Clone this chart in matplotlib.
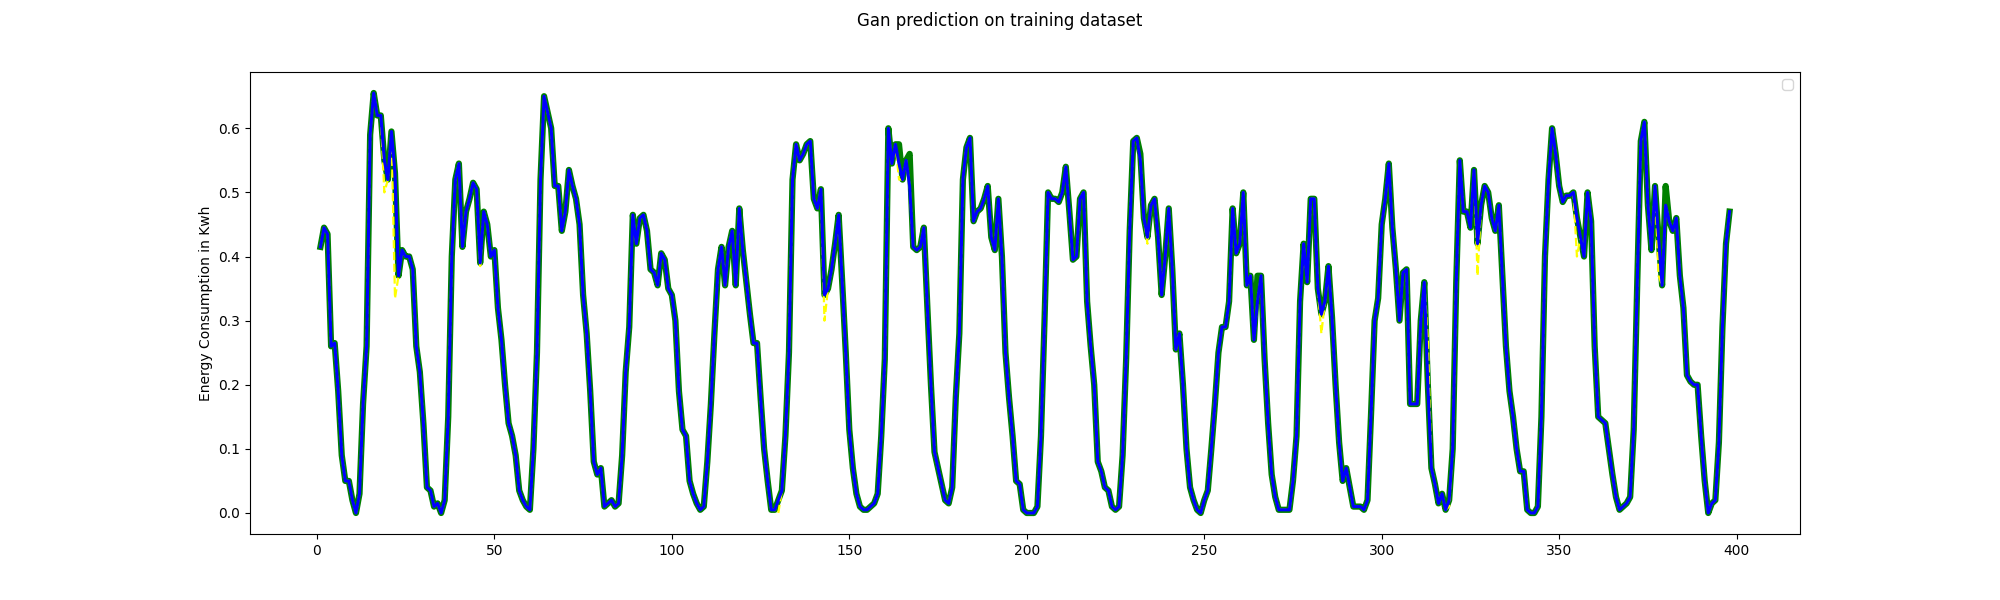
import matplotlib
matplotlib.use("Agg")
import matplotlib.pyplot as plt
import numpy as np

real = [
    0.415, 0.445, 0.435, 0.26, 0.265, 0.19, 0.09, 0.05, 0.05, 0.02,
    0.0, 0.03, 0.17, 0.26, 0.59, 0.655, 0.62, 0.62, 0.55, 0.52,
    0.595, 0.53, 0.37, 0.41, 0.40, 0.40, 0.38, 0.26, 0.22, 0.14,
    0.04, 0.035, 0.01, 0.015, 0.0, 0.02, 0.15, 0.40, 0.52, 0.545,
    0.415, 0.47, 0.49, 0.515, 0.505, 0.39, 0.47, 0.45, 0.40, 0.41,
    0.32, 0.27, 0.20, 0.14, 0.12, 0.09, 0.035, 0.02, 0.01, 0.005,
    0.10, 0.25, 0.52, 0.65, 0.625, 0.60, 0.51, 0.51, 0.44, 0.47,
    0.535, 0.51, 0.49, 0.45, 0.34, 0.28, 0.19, 0.08, 0.06, 0.07,
    0.01, 0.015, 0.02, 0.01, 0.015, 0.09, 0.22, 0.29, 0.465, 0.42,
    0.46, 0.465, 0.44, 0.38, 0.375, 0.355, 0.405, 0.395, 0.35, 0.34,
    0.30, 0.19, 0.13, 0.12, 0.05, 0.03, 0.015, 0.005, 0.01, 0.08,
    0.17, 0.28, 0.38, 0.415, 0.355, 0.415, 0.44, 0.355, 0.475, 0.41,
    0.36, 0.31, 0.265, 0.265, 0.18, 0.10, 0.05, 0.005, 0.005, 0.02,
    0.035, 0.12, 0.25, 0.52, 0.575, 0.55, 0.56, 0.575, 0.58, 0.49,
    0.475, 0.505, 0.34, 0.35, 0.38, 0.42, 0.465, 0.36, 0.25, 0.13, 0.07,
    0.03, 0.01, 0.005, 0.005, 0.01, 0.015, 0.03, 0.12, 0.24, 0.60, 0.545, 0.575,
    0.545, 0.52, 0.55, 0.51, 0.415, 0.41, 0.415, 0.445, 0.32,
    0.20, 0.095, 0.07, 0.045, 0.02, 0.015, 0.04, 0.18, 0.28,
    0.52, 0.57, 0.585, 0.455, 0.47, 0.475, 0.49, 0.51, 0.43, 0.41,
    0.49, 0.40, 0.25, 0.18, 0.12, 0.05, 0.045, 0.005, 0.0, 0.0, 0.0,
    0.01, 0.12, 0.30, 0.50, 0.49, 0.49, 0.485, 0.50, 0.54, 0.47,
    0.395, 0.40, 0.49, 0.50, 0.33, 0.26, 0.20, 0.08, 0.065, 0.04,
    0.035, 0.01, 0.005, 0.01, 0.09, 0.24, 0.44, 0.58, 0.585, 0.55,
    0.46, 0.43, 0.48, 0.49, 0.43, 0.34, 0.40, 0.475, 0.38, 0.255,
    0.28, 0.20, 0.10, 0.04, 0.02, 0.005, 0.0, 0.02, 0.035, 0.10,
    0.17, 0.25, 0.29, 0.29, 0.33, 0.475, 0.405, 0.42, 0.50, 0.355,
    0.37, 0.27, 0.33, 0.37, 0.24, 0.14, 0.06, 0.025, 0.005, 0.005,
    0.005, 0.005, 0.05, 0.12, 0.33, 0.42, 0.36, 0.49, 0.49, 0.35,
    0.31, 0.33, 0.385, 0.305, 0.20, 0.11, 0.05, 0.07, 0.04, 0.01,
    0.01, 0.01, 0.005, 0.02, 0.155, 0.30, 0.335, 0.45, 0.49, 0.545,
    0.445, 0.38, 0.30, 0.375, 0.38, 0.17, 0.17, 0.17, 0.30, 0.36,
    0.20, 0.07, 0.045, 0.015, 0.03, 0.005, 0.02, 0.10, 0.36, 0.55,
    0.47, 0.47, 0.445, 0.535, 0.42, 0.48, 0.51, 0.50, 0.46, 0.44, 0.48,
    0.37, 0.26, 0.19, 0.15, 0.10, 0.065, 0.065, 0.005, 0.0, 0.0,
    0.01, 0.15, 0.40, 0.52, 0.60, 0.56, 0.51, 0.485, 0.495, 0.495,
    0.50, 0.46, 0.43, 0.40, 0.50, 0.455, 0.26, 0.15, 0.145, 0.14, 0.10,
    0.06, 0.025, 0.005, 0.01, 0.015, 0.025, 0.13, 0.36, 0.58, 0.61,
    0.48, 0.41, 0.51, 0.43, 0.355, 0.48, 0.455, 0.44, 0.46, 0.37,
    0.32, 0.215, 0.205, 0.20, 0.20, 0.12, 0.05, 0.0, 0.015, 0.02, 0.11,
    0.29, 0.42, 0.47,
]

# hours where the green / yellow series leave the blue one
green_hours = [139, 164, 167, 211, 232, 265, 302, 380]
green_vals = [0.58, 0.575, 0.56, 0.54, 0.56, 0.37, 0.545, 0.51]
yellow_hours = [19, 22, 46, 130, 143, 164, 234, 283, 313, 319, 327, 355, 378]
yellow_vals = [0.50, 0.335, 0.385, 0.0, 0.30, 0.52, 0.42, 0.28, 0.27, 0.01, 0.37, 0.40, 0.37]

hours = np.arange(1, len(real) + 1)
real = np.array(real)
green = real.copy()
green[np.array(green_hours) - 1] = green_vals
yellow = real.copy()
yellow[np.array(yellow_hours) - 1] = yellow_vals

fig, ax = plt.subplots(figsize=(20, 6), dpi=100)
ax.plot(hours, green, color="green", lw=4.5)
ax.plot(hours, yellow, color="yellow", lw=1.6, ls="--")
ax.plot(hours, real, color="blue", lw=2.2)
ax.set_ylabel("Energy Consumption in Kwh")
ax.legend(loc="upper right")
fig.suptitle("Gan prediction on training dataset")
fig.savefig("out.png")
